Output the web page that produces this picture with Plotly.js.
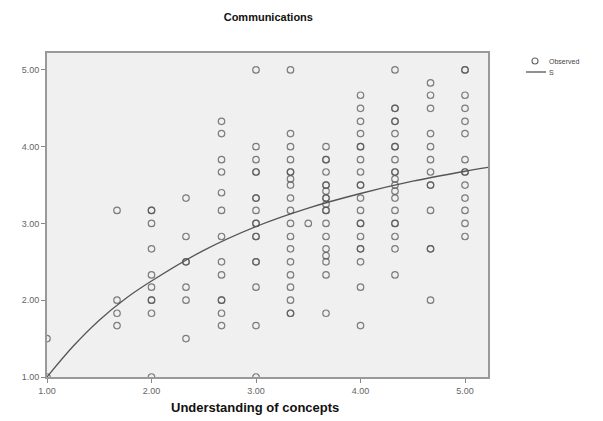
<!DOCTYPE html>
<html>
<head>
<meta charset="utf-8">
<script src="https://cdn.plot.ly/plotly-3.0.1.min.js"></script>
<style>html,body{margin:0;padding:0;background:#fff;}#chart{width:603px;height:421px;}</style>
</head>
<body>
<div id="chart"></div>
<script>
// Observed values: x level and the y values read in each column
var xLevels = [1.00, 1.67, 2.00, 2.33, 2.67, 3.00, 3.33, 3.50, 3.67, 4.00, 4.33, 4.67, 5.00];
var yColumns = [
  [1.50, 1.00],
  [3.17, 2.00, 1.83, 1.67],
  [3.17, 3.17, 3.00, 2.67, 2.33, 2.17, 2.00, 2.00, 1.83, 1.00],
  [3.33, 2.83, 2.50, 2.50, 2.17, 2.00, 1.50],
  [4.33, 4.17, 3.83, 3.67, 3.40, 3.17, 2.83, 2.50, 2.33, 2.00, 2.00, 1.83, 1.67],
  [5.00, 4.00, 3.83, 3.67, 3.67, 3.33, 3.33, 3.17, 3.00, 3.00, 2.83, 2.83, 2.50, 2.50, 2.17, 1.67, 1.00],
  [5.00, 4.17, 4.00, 3.83, 3.67, 3.67, 3.58, 3.50, 3.33, 3.17, 3.00, 2.83, 2.67, 2.50, 2.33, 2.17, 2.00, 1.83, 1.83],
  [3.00],
  [4.00, 3.83, 3.83, 3.67, 3.50, 3.50, 3.42, 3.33, 3.33, 3.25, 3.17, 3.17, 3.00, 2.83, 2.67, 2.58, 2.50, 2.33, 1.83],
  [4.67, 4.50, 4.33, 4.17, 4.00, 4.00, 3.83, 3.67, 3.50, 3.50, 3.33, 3.17, 3.00, 3.00, 2.83, 2.67, 2.67, 2.50, 2.17, 1.67],
  [5.00, 4.50, 4.50, 4.33, 4.33, 4.17, 4.00, 4.00, 3.83, 3.67, 3.67, 3.58, 3.50, 3.42, 3.33, 3.17, 3.00, 3.00, 2.83, 2.67, 2.33],
  [4.83, 4.67, 4.50, 4.17, 4.00, 3.83, 3.67, 3.50, 3.50, 3.17, 2.67, 2.67, 2.00],
  [5.00, 5.00, 4.67, 4.50, 4.33, 4.17, 3.83, 3.67, 3.67, 3.50, 3.33, 3.17, 3.00, 2.83]
];
// Fitted S curve
var curveX = [1.00, 1.25, 1.50, 1.75, 2.00, 2.50, 3.00, 3.50, 4.00, 4.50, 5.00, 5.22];
var curveY = [1.00, 1.40, 1.74, 2.02, 2.25, 2.65, 2.96, 3.20, 3.39, 3.55, 3.68, 3.73];
var xTicks = [1, 2, 3, 4, 5];
var yTicks = [1, 2, 3, 4, 5];
var legendLabels = ['Observed', 'S'];

var obsX = [], obsY = [];
xLevels.forEach(function (xv, i) {
  yColumns[i].forEach(function (yv) { obsX.push(xv); obsY.push(yv); });
});

var font = 'Liberation Sans, Arial, sans-serif';
var traces = [
  {
    x: obsX, y: obsY, type: 'scatter', mode: 'markers', name: legendLabels[0],
    marker: {symbol: 'circle-open', size: 6.5, color: 'rgba(85,85,85,0.75)', line: {width: 1.2}}
  },
  {
    x: curveX, y: curveY, type: 'scatter', mode: 'lines', name: legendLabels[1],
    line: {color: '#555', width: 1.3, shape: 'spline'}
  }
];

var axisCommon = {
  showgrid: false, zeroline: false,
  showline: true, mirror: true, linecolor: '#999', linewidth: 2,
  ticks: 'outside', ticklen: 4, tickcolor: '#888', tickwidth: 1,
  tickformat: '.2f', tickfont: {family: font, size: 9, color: '#666'}
};

// legend drawn by hand, in pixel terms converted to paper units
var L = 47, R = 488, T = 53, B = 377;
function px(p) { return (p - L) / (R - L); }
function py(p) { return (B - p) / (B - T); }

var layout = {
  width: 603, height: 421,
  margin: {l: L, r: 603 - R, t: T, b: 421 - B},
  paper_bgcolor: '#ffffff', plot_bgcolor: '#f0f0f0',
  font: {family: font},
  title: {text: '<b>Communications</b>', font: {family: font, size: 11, color: '#111'},
          x: 0.445, xanchor: 'center', y: 0.96, yanchor: 'middle'},
  xaxis: Object.assign({}, axisCommon, {range: [1, 5.22], tickvals: xTicks}),
  yaxis: Object.assign({}, axisCommon, {range: [1, 5.22], tickvals: yTicks}),
  showlegend: false,
  shapes: [
    {type: 'circle', xref: 'paper', yref: 'paper', x0: px(532), x1: px(538), y0: py(58), y1: py(64),
     line: {color: '#666', width: 1.1}},
    {type: 'line', xref: 'paper', yref: 'paper', x0: px(526), x1: px(546), y0: py(72), y1: py(72),
     line: {color: '#555', width: 1.3}}
  ],
  annotations: [
    {text: '<b>Understanding of concepts</b>', xref: 'paper', yref: 'paper', x: 0.471, y: -0.093,
     xanchor: 'center', yanchor: 'middle', showarrow: false, font: {family: font, size: 13, color: '#111'}},
    {text: legendLabels[0], xref: 'paper', yref: 'paper', x: px(547), y: py(61), xanchor: 'left', yanchor: 'middle',
     showarrow: false, font: {family: font, size: 7, color: '#444'}},
    {text: legendLabels[1], xref: 'paper', yref: 'paper', x: px(547), y: py(72), xanchor: 'left', yanchor: 'middle',
     showarrow: false, font: {family: font, size: 7, color: '#444'}}
  ]
};

Plotly.newPlot('chart', traces, layout, {displayModeBar: false, staticPlot: true});
</script>
</body>
</html>
